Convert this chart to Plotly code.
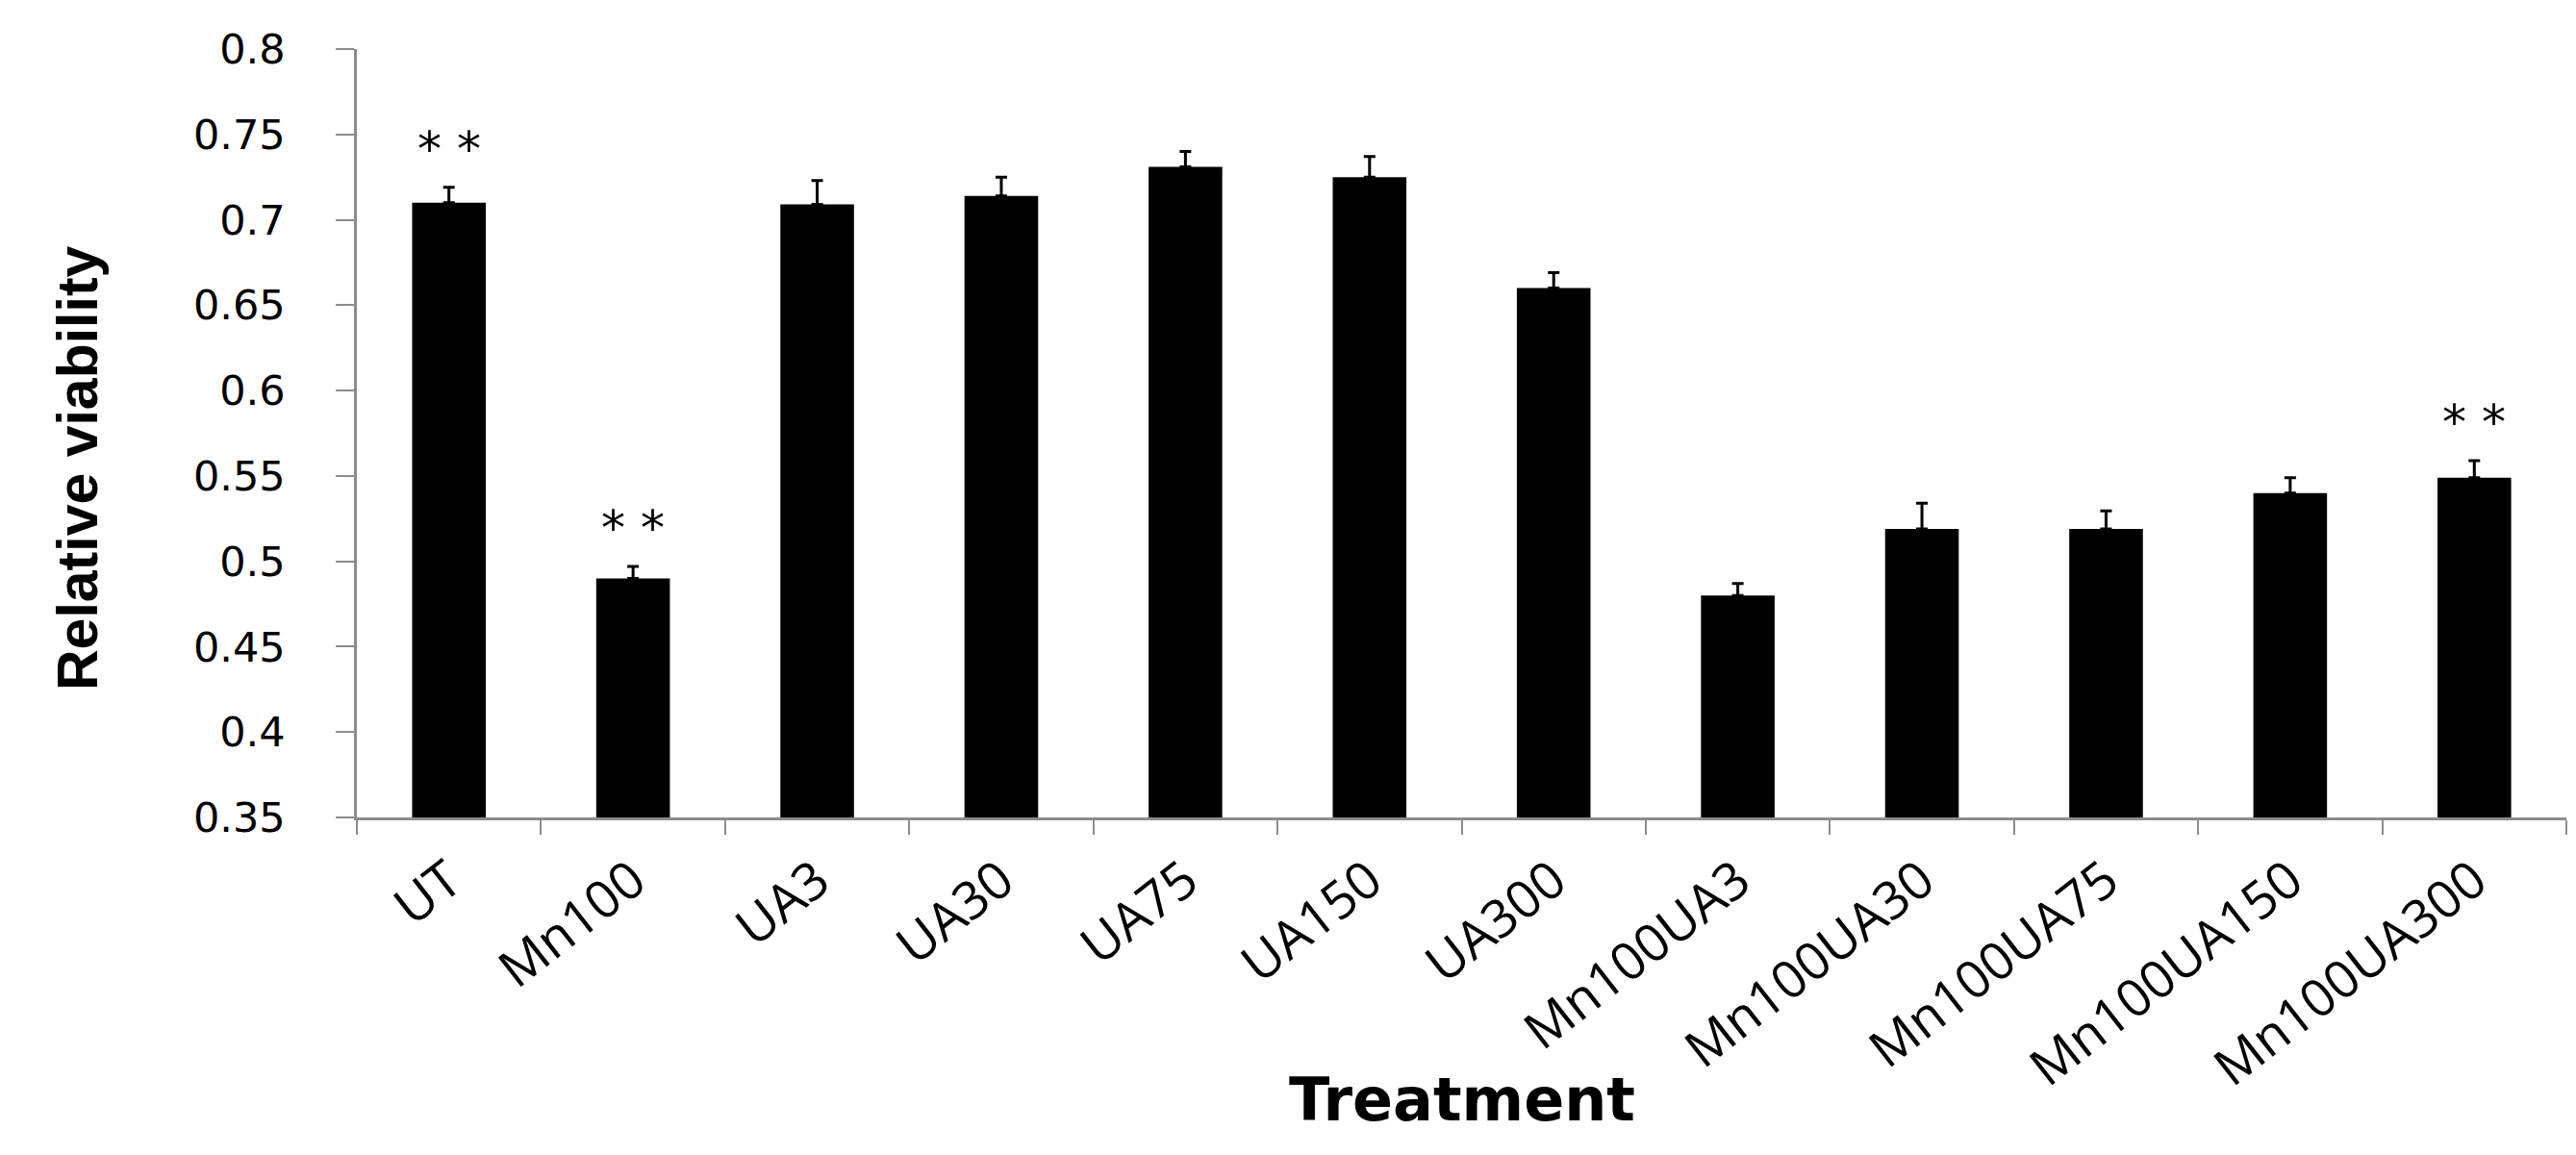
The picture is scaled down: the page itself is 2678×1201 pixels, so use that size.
import plotly.graph_objects as go

categories = ["UT", "Mn100", "UA3", "UA30", "UA75", "UA150", "UA300",
              "Mn100UA3", "Mn100UA30", "Mn100UA75", "Mn100UA150", "Mn100UA300"]
viability = [0.710, 0.490, 0.709, 0.714, 0.731, 0.725, 0.660,
             0.480, 0.519, 0.519, 0.540, 0.549]
error_up = [0.009, 0.007, 0.014, 0.011, 0.009, 0.012, 0.009,
            0.007, 0.015, 0.0105, 0.009, 0.010]
significant = [True, True, False, False, False, False, False,
               False, False, False, False, True]
y_tick_values = [0.35, 0.4, 0.45, 0.5, 0.55, 0.6, 0.65, 0.7, 0.75, 0.8]
y_tick_labels = ["0.35", "0.4", "0.45", "0.5", "0.55", "0.6", "0.65", "0.7", "0.75", "0.8"]

AXIS_GRAY = "#8c8c8c"

fig = go.Figure()
fig.add_trace(go.Bar(
    x=categories,
    y=viability,
    marker=dict(color="black", line=dict(width=0)),
    error_y=dict(type="data", array=error_up, arrayminus=[0] * len(error_up),
                 symmetric=False, color="black", thickness=3, width=6),
    showlegend=False,
))

for cat, v, e, s in zip(categories, viability, error_up, significant):
    if s:
        fig.add_annotation(x=cat, y=v + e, xref="x", yref="y", text="* *",
                           showarrow=False, yanchor="bottom", yshift=9,
                           font=dict(family="DejaVu Sans", size=50, color="black"))

fig.add_annotation(text="<b>Relative viability</b>", xref="paper", yref="paper",
                   x=-0.126, y=0.455, xanchor="center", yanchor="middle",
                   textangle=-90, showarrow=False,
                   font=dict(family="Liberation Sans", size=59, color="black"))
fig.add_annotation(text="<b>Treatment</b>", xref="paper", yref="paper",
                   x=0.5, y=-0.367, xanchor="center", yanchor="middle",
                   showarrow=False,
                   font=dict(family="DejaVu Sans", size=62, color="black"))

fig.update_layout(
    width=2678, height=1201, autosize=False,
    margin=dict(l=363, r=18, t=43, b=359),
    plot_bgcolor="white", paper_bgcolor="white",
    bargap=0.6,
)
fig.update_xaxes(
    type="category", showgrid=False, zeroline=False,
    showline=True, linecolor=AXIS_GRAY, linewidth=2.5,
    ticks="outside", tickson="boundaries", ticklen=15, tickwidth=2, tickcolor=AXIS_GRAY,
    tickangle=-38, ticklabelstandoff=10,
    tickfont=dict(family="Open Sans", size=54, color="black"),
)
fig.update_yaxes(
    range=[0.35, 0.8], showgrid=False, zeroline=False,
    showline=True, linecolor=AXIS_GRAY, linewidth=2.5,
    ticks="outside", ticklen=19, tickwidth=2, tickcolor=AXIS_GRAY,
    tickvals=y_tick_values, ticktext=y_tick_labels, ticklabelstandoff=44,
    tickfont=dict(family="DejaVu Sans", size=43, color="black"),
)

fig.write_html("out.html")
